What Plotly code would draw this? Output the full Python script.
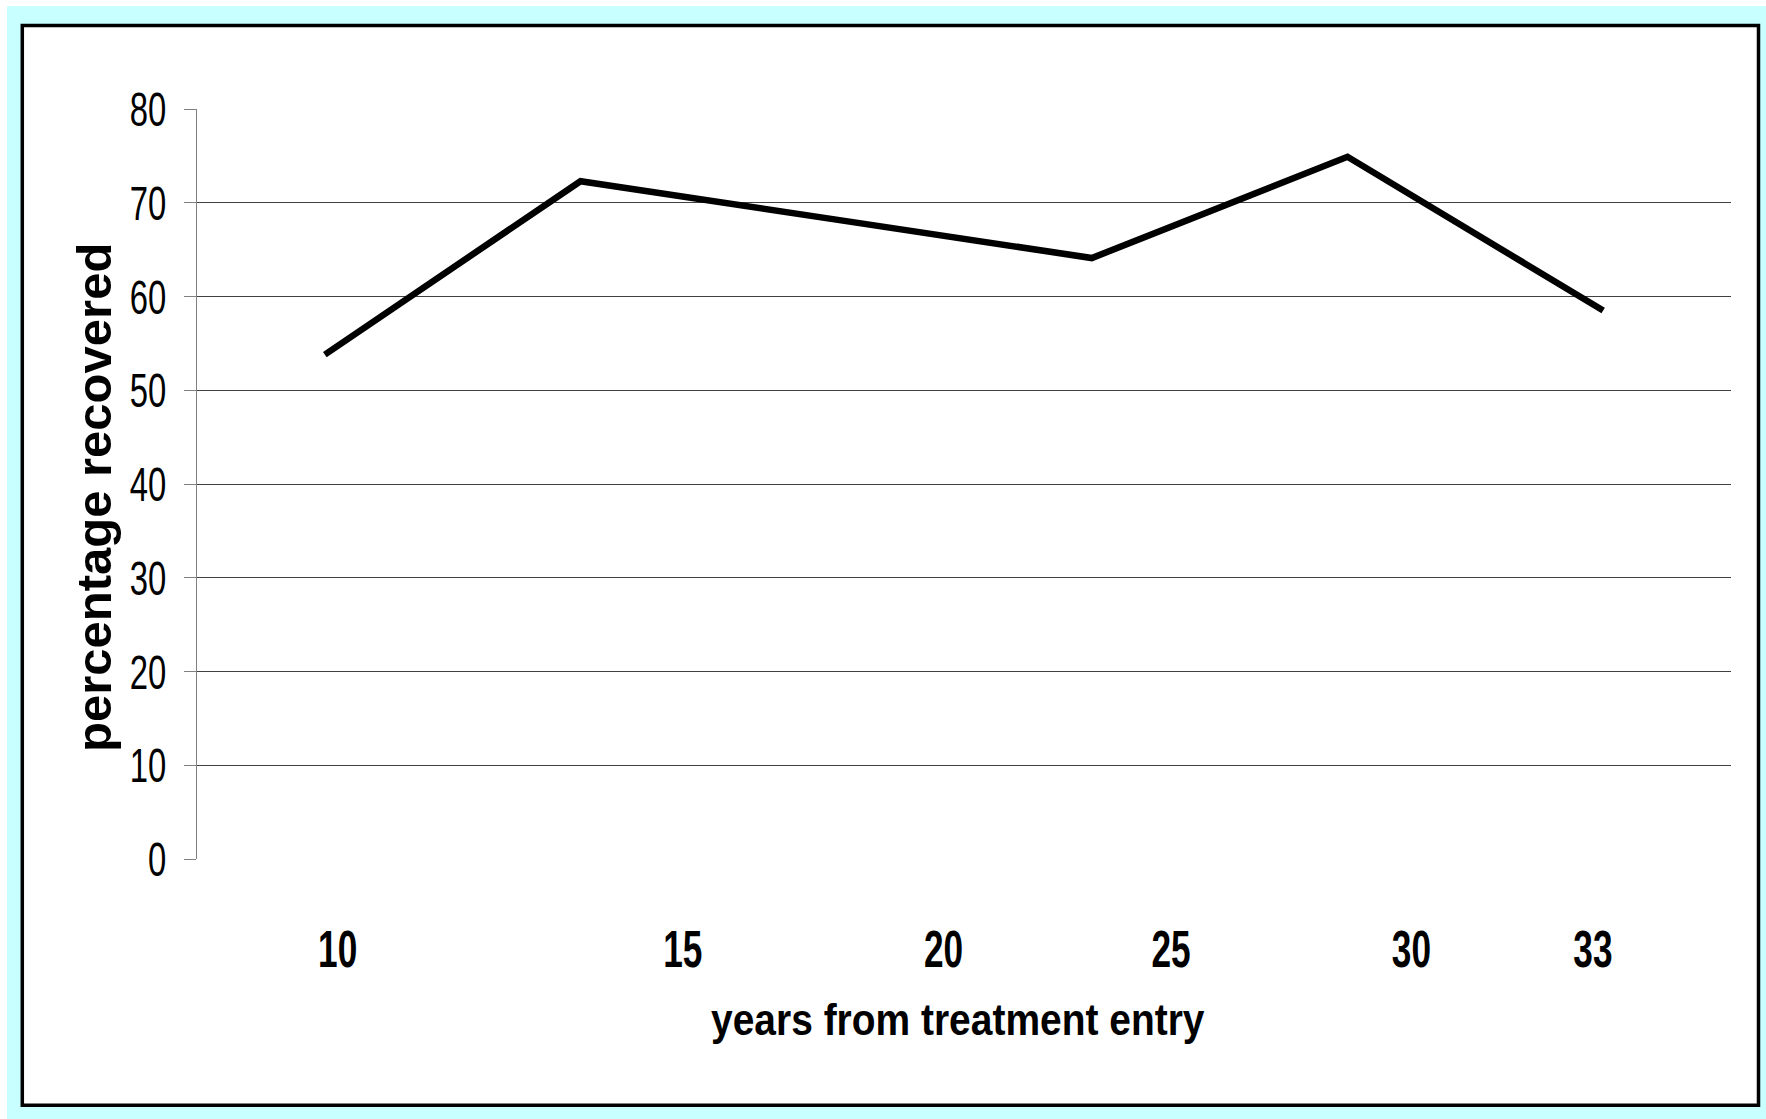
import plotly.graph_objects as go

# Recovery rate at each follow-up wave
years = ["10", "15", "20", "25", "30", "33"]
pct_recovered = [53.8, 72.3, 68.2, 64.1, 74.9, 58.5]
y_ticks = [0, 10, 20, 30, 40, 50, 60, 70, 80]
grid_levels = [10, 20, 30, 40, 50, 60, 70]

W, H = 1766, 1119
L, R, T, B = 197, 35, 109, 260
PW, PH = W - L - R, H - T - B


def px_x(px):
    return (px - L) / PW


def px_y(py):
    return (H - B - py) / PH


waves = list(range(len(pct_recovered)))
# offsets of the year labels along the wave slots
label_pos = [0.05, 1.40, 2.42, 3.31, 4.25, 4.96]

SANS = "Liberation Sans, Arial, sans-serif"

fig = go.Figure()
fig.add_trace(go.Scatter(
    x=waves, y=pct_recovered, mode="lines",
    line=dict(color="black", width=6.5),
    hoverinfo="skip", showlegend=False,
))
# empty trace that carries the gridline axis
fig.add_trace(go.Scatter(x=[None], y=[None], yaxis="y2", showlegend=False, hoverinfo="skip"))

fig.update_layout(
    width=W, height=H,
    margin=dict(l=L, r=R, t=T, b=B),
    paper_bgcolor="white",
    plot_bgcolor="rgba(0,0,0,0)",
    xaxis=dict(
        range=[-0.5, 5.5], showgrid=False, zeroline=False, showline=False,
        tickmode="array", tickvals=label_pos, ticktext=years, ticks="",
        tickfont=dict(family=SANS, size=51, color="black", weight="bold"),
        ticklabelstandoff=56,
    ),
    yaxis=dict(
        range=[0, 80], tickmode="array", tickvals=y_ticks,
        showgrid=False, zeroline=False,
        showline=True, linecolor="#808080", linewidth=1,
        ticks="outside", ticklen=12, tickcolor="#808080", tickwidth=1,
        tickfont=dict(family=SANS, size=49, color="black"),
        ticklabelstandoff=8,
    ),
    yaxis2=dict(
        range=[0, 80], overlaying="y", tickmode="array", tickvals=grid_levels,
        showgrid=True, gridcolor="#404040", gridwidth=1,
        showticklabels=False, ticks="", zeroline=False, showline=False,
    ),
    shapes=[
        dict(type="rect", xref="paper", yref="paper", layer="below",
             x0=px_x(7), x1=px_x(W + 2), y0=px_y(6), y1=px_y(H + 2),
             fillcolor="#C8FFFF", line=dict(width=0)),
        dict(type="rect", xref="paper", yref="paper", layer="below",
             x0=px_x(22.3), x1=px_x(1758.5), y0=px_y(25.5), y1=px_y(1105.3),
             fillcolor="white", line=dict(color="black", width=3.5)),
    ],
    annotations=[
        dict(text="percentage recovered", textangle=-90,
             xref="paper", yref="paper", x=px_x(94), y=px_y(498),
             xanchor="center", yanchor="middle", showarrow=False,
             font=dict(family=SANS, size=49, color="black", weight="bold")),
        dict(text="years from treatment entry",
             xref="paper", yref="paper", x=px_x(958), y=px_y(1020),
             xanchor="center", yanchor="middle", showarrow=False,
             font=dict(family=SANS, size=44, color="black", weight="bold")),
    ],
)

# narrow the tick labels and the x title horizontally (condensed lettering)
squeeze_js = """
var gd = document.getElementById('{plot_id}');
function squeeze(sel, f) {
  gd.querySelectorAll(sel).forEach(function (t) {
    var w = t.getComputedTextLength();
    if (w > 0) {
      t.setAttribute('textLength', (w * f).toFixed(2));
      t.setAttribute('lengthAdjust', 'spacingAndGlyphs');
    }
  });
}
squeeze('.ytick text', 0.67);
squeeze('.xtick text', 0.69);
squeeze('.annotation[data-index="1"] text', 0.885);
"""

fig.write_html("out.html", post_script=squeeze_js)
